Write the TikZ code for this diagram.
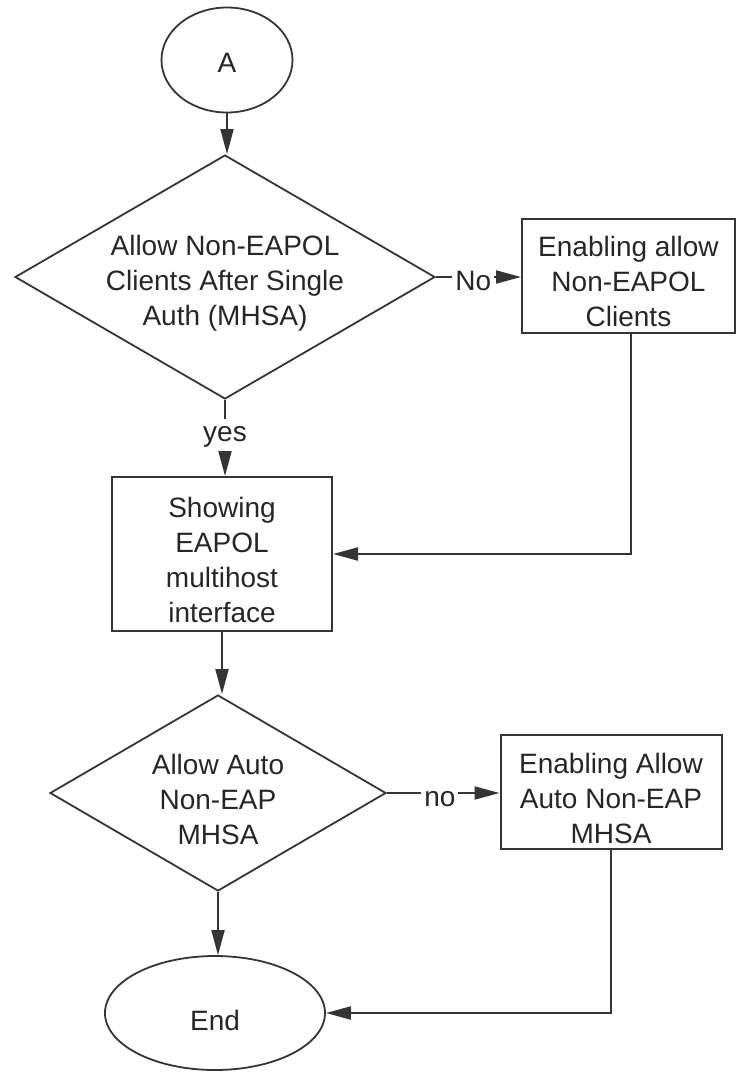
\documentclass[tikz,border=0pt]{standalone}
\usepackage{fontspec}
\setmainfont{Liberation Sans}
\usetikzlibrary{shapes.geometric,arrows.meta}
\definecolor{ink}{HTML}{353535}
\definecolor{txt}{HTML}{262626}
\newcommand\upx[1]{\rule{0pt}{#1}}
\begin{document}
\begin{tikzpicture}[x=0.5pt,y=-0.5pt,
  every node/.style={font=\fontsize{14}{17.5}\selectfont, text=txt},
  line/.style={draw=ink, line width=1pt},
  arr/.style={line, -{Triangle[length=12.5pt,width=6.5pt]}},
  term/.style={ellipse, draw=ink, line width=0.9pt, inner sep=0pt},
  dec/.style={diamond, draw=ink, line width=0.9pt, inner sep=-2pt, align=center, aspect=1.72},
  proc/.style={rectangle, draw=ink, line width=1pt, inner sep=0pt, align=center},
  lbl/.style={fill=white, inner sep=1.5pt, text height=10pt, text depth=3pt, yshift=-3pt}]
\useasboundingbox (0,0) rectangle (736,1073);
\clip (0,0) rectangle (736,1073);

\node[term, minimum width=65.5pt, minimum height=52.5pt] (A) at (227,60) {\upx{12pt}A};
\node[dec, minimum width=210pt, minimum height=122pt] (D1) at (225,277)
  {\upx{16pt}Allow Non-EAPOL\\Clients After Single\\Auth (MHSA)};
\node[proc, minimum width=106.5pt, minimum height=57pt] (B1) at (628.5,276)
  {\upx{16pt}Enabling allow\\Non-EAPOL\\Clients};
\node[proc, minimum width=110pt, minimum height=77pt] (B2) at (222,554)
  {\upx{16pt}Showing\\EAPOL\\multihost\\interface};
\node[dec, minimum width=168pt, minimum height=98pt, aspect=1.71] (D2) at (218,793)
  {\upx{17pt}Allow Auto\\Non-EAP\\MHSA};
\node[proc, minimum width=110.5pt, minimum height=57pt] (B3) at (611,792)
  {\upx{17pt}Enabling Allow\\Auto Non-EAP\\MHSA};
\node[term, minimum width=110pt, minimum height=57pt] (E) at (215,1013) {\upx{18pt}End};

\draw[arr] (A.south) -- (A.south |- D1.north);
\draw[arr] (D1.east) -- node[lbl, pos=0.44] {No} (D1.east -| B1.west);
\draw[arr] (D1.south) -- node[lbl, pos=0.38] {yes} (D1.south |- B2.north);
\draw[arr] ([xshift=1.25pt]B1.south) |- (B2.east);
\draw[arr] (B2.south) -- (B2.south |- D2.north);
\draw[arr] (D2.east) -- node[lbl, pos=0.47] {no} (D2.east -| B3.west);
\draw[arr] (D2.south) -- (D2.south |- E.north);
\draw[arr] (B3.south) |- (E.east);
\end{tikzpicture}
\end{document}
